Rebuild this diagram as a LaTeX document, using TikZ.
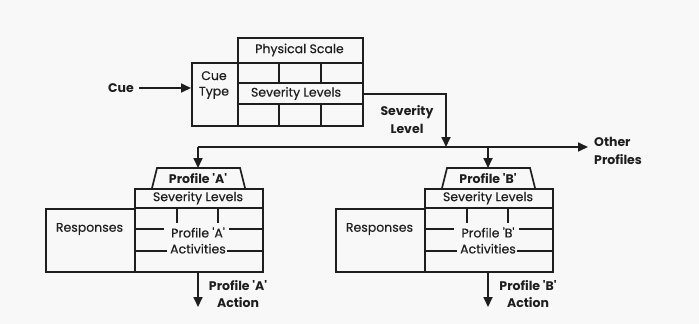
\documentclass[tikz,border=0pt]{standalone}
\usepackage{fontspec}
\setmainfont{Poppins}
\newfontfamily\bookface{Poppins}[FakeBold=0.35]
\usetikzlibrary{arrows.meta}
\definecolor{ink}{RGB}{30,30,30}
\definecolor{paper}{RGB}{248,248,248}
\begin{document}
\begin{tikzpicture}[x=1pt,y=-1pt,
  line/.style={draw=ink, line width=1.7pt},
  tick/.style={draw=ink, line width=1.1pt},
  flow/.style={line, -{Triangle[length=10pt,width=9pt]}},
  lbl/.style={font=\bookface\fontsize{12.5}{17}\selectfont, text=ink, inner sep=0pt, align=center},
  blbl/.style={lbl, font=\fontsize{12.5}{17.5}\selectfont\bfseries},
  cell/.style={line, rectangle, inner sep=0pt, anchor=north west},
]
\fill[paper] (0,0) rectangle (699,324);
\useasboundingbox (0,0) rectangle (699,324);

% cue table
\node[cell, minimum width=125pt, minimum height=25pt] (scale) at (237,37) {};
\node[cell, minimum width=46pt, minimum height=63pt] (cuetype) at (191,62) {};
\node[cell, minimum width=125pt, minimum height=63pt] (grid) at (237,62) {};
\draw[line] (237,83) -- (362,83) (237,104) -- (362,104);
\draw[line] (279,62) -- (279,83) (321,62) -- (321,83)
            (279,104) -- (279,125) (321,104) -- (321,125);
\node[lbl] (scaletxt) at (299.5,50) {Physical Scale};
\node[lbl] (cuetxt) at (214,85) {Cue\\[-1.5pt]Type};
\node[lbl] (sevtxt) at (296,93.5) {Severity Levels};

% incoming cue
\node[blbl] (cue) at (121,88) {Cue};
\draw[flow] (cue.east) ++(5,0) coordinate (cuestart) -- (cuestart -| cuetype.west);

% severity level out to the distribution line
\coordinate (busA) at (198,147);
\coordinate (busS) at (446,147);
\coordinate (busB) at (488,147);
\coordinate (sevout) at (362,94);
\draw[flow] (sevout) -| (busS);
\node[blbl] (sevlvl) at (407,119.5) {Severity\\Level};
\node[blbl, anchor=west, align=left] (other) at (594,151) {Other\\Profiles};
\draw[flow, shorten >=6pt] (busA) -- (busA -| other.west);

% response profiles
\foreach \p/\dx in {A/0,B/290}{
  \begin{scope}[xshift=\dx pt]
    \coordinate (top\p) at (198,168);
    \draw[line] (152,188) -- (157,168) -- (240,168) -- (245,188);
    \node[blbl] (trap\p) at (198,178.5) {Profile \textquotesingle\p\textquotesingle};
    \node[cell, minimum width=128pt, minimum height=83pt] (box\p) at (134,188) {};
    \node[cell, minimum width=89pt, minimum height=63pt] (resp\p) at (45,208) {};
    \draw[line] (134,208) -- (262,208);
    \draw[tick] (177,208) -- (177,223) (218,208) -- (218,223)
                (134,229) -- (164,229) (229,229) -- (262,229)
                (134,251) -- (167,251) (227,251) -- (262,251);
    \node[lbl] (levels\p) at (198,198) {Severity Levels};
    \node[lbl] (resptxt\p) at (89.5,229) {Responses};
    \node[lbl] (act\p) at (198,240.5) {Profile \textquotesingle\p\textquotesingle\\[-1pt]Activities};
    \coordinate (out\p) at (198,307);
    \node[blbl] (action\p) at (238,294) {Profile \textquotesingle\p\textquotesingle\\Action};
  \end{scope}
}
\draw[flow] (busA) -- (topA);
\draw[flow] (busB) -- (topB);
\draw[flow] (boxA.south -| topA) -- (outA);
\draw[flow] (boxB.south -| topB) -- (outB);
\end{tikzpicture}
\end{document}
